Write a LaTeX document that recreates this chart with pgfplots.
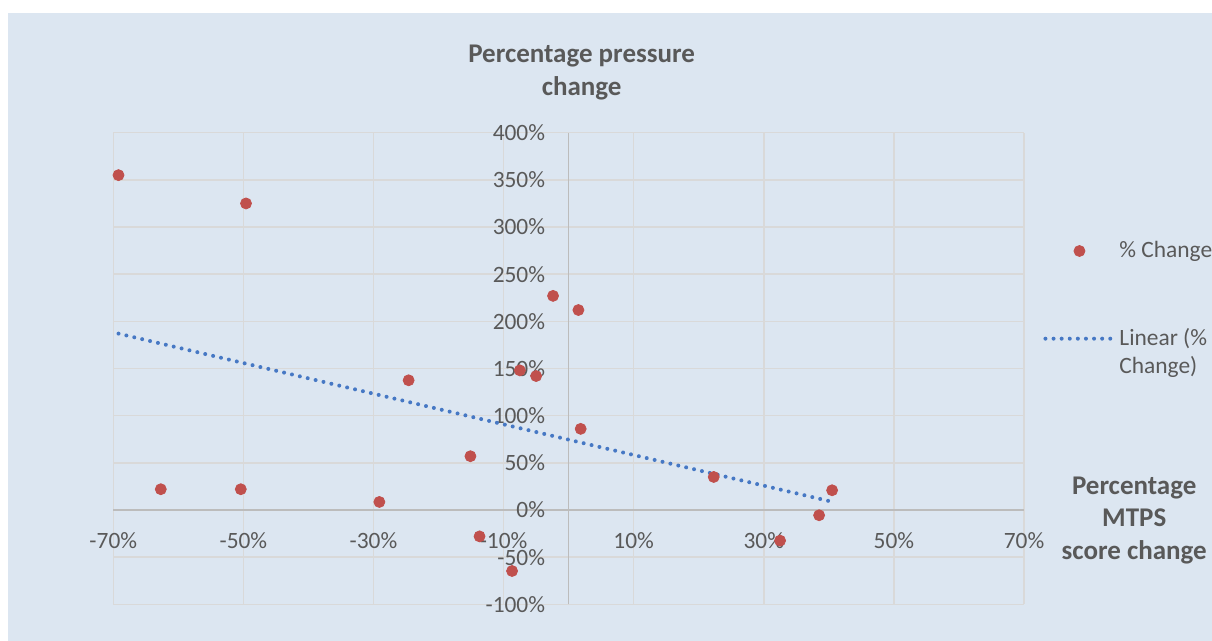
\documentclass[border=0pt]{standalone}
\usepackage{pgfplots}
\pgfplotsset{compat=1.18}
\usepackage{fontspec}
\setmainfont{Carlito}

\definecolor{bgblue}{HTML}{DCE6F1}
\definecolor{gridgray}{HTML}{D9D9D9}
\definecolor{zerogray}{HTML}{BCBCBC}
\definecolor{txtgray}{HTML}{595959}
\definecolor{ptred}{HTML}{C0504D}
\definecolor{trendblue}{HTML}{4678C4}

% legend sample for the trend line, raised to the first text line
\pgfplotsset{trendlegend/.style={legend image code/.code={\draw[##1] (0pt,7pt) -- (34pt,7pt);}}}

% percentage MTPS score change vs percentage pressure change
\pgfplotstableread{
x     y
-69.2 355
-49.6 325
-62.7 22
-50.4 22
-29.1 8.5
-24.6 137.5
-15.1 57
-13.7 -28
-8.7  -64.7
-7.5  148
-5.0  142
-2.4  227
1.5   212
1.85  86
22.3  35
32.5  -32.5
38.5  -5.6
40.5  20.9
}\changedata

\begin{document}
\begin{tikzpicture}
\path[use as bounding box] (0,0) rectangle (606pt,320.5pt);
\fill[white] (0,0) rectangle (606pt,320.5pt);
\fill[bgblue] (4pt,0) rectangle (606pt,314pt);
\begin{axis}[
    at={(56.65pt,18.35pt)}, anchor=south west,
    scale only axis,
    width=455.35pt, height=235.8pt,
    xmin=-70, xmax=70,
    ymin=-100, ymax=400,
    axis lines=middle,
    axis line style={zerogray, line width=0.75pt},
    every inner x axis line/.append style={-},
    every inner y axis line/.append style={-},
    hide obscured x ticks=false,
    hide obscured y ticks=false,
    xtick={-70,-50,...,70},
    ytick={-100,-50,...,400},
    xticklabels={-70\%,-50\%,-30\%,-10\%,10\%,30\%,50\%,70\%},
    yticklabels={-100\%,-50\%,0\%,50\%,100\%,150\%,200\%,250\%,300\%,350\%,400\%},
    major tick length=0pt,
    grid=major,
    grid style={gridgray, line width=0.75pt},
    xticklabel style={font=\fontsize{11.7}{14}\selectfont, text=txtgray, inner sep=0pt, anchor=north, yshift=-11.3pt},
    yticklabel style={font=\fontsize{11.7}{14}\selectfont, text=txtgray, inner sep=0pt, anchor=east, xshift=-11.6pt},
    xlabel={Percentage\\MTPS\\score change},
    xlabel style={at={(axis description cs:1.1210,0.2716)}, anchor=north, align=center,
        font=\fontsize{13.5}{16.4}\selectfont\bfseries, text=txtgray, inner sep=0pt},
    ylabel={Percentage pressure\\change},
    ylabel style={at={(axis description cs:0.5143,1.1860)}, anchor=north, align=center,
        font=\fontsize{13.5}{16.4}\selectfont\bfseries, text=txtgray, inner sep=0pt},
    legend image code/.code={\draw[mark repeat=2,mark phase=2,#1] plot coordinates {(0pt,0pt) (17pt,0pt) (34pt,0pt)};},
    legend style={at={(axis description cs:1.0209,0.7704)}, anchor=north west,
        draw=none, fill=none, inner sep=0pt,
        font=\fontsize{11.7}{14}\selectfont, text=txtgray,
        nodes={inner sep=0pt},
        cells={anchor=west, align=left},
        column sep=2pt, row sep=34pt},
]
\addplot[only marks, mark=*, mark size=2.75pt, mark options={draw=ptred, fill=ptred}]
    table[x=x, y=y] {\changedata};
\addlegendentry{\% Change}
\addplot[trendblue, line width=2pt, line cap=round, dash pattern=on 0pt off 4.05pt, trendlegend]
    coordinates {(-69.2,187.0) (40.5,8.7)};
\addlegendentry{Linear (\%\\Change)}
\end{axis}
\end{tikzpicture}
\end{document}
